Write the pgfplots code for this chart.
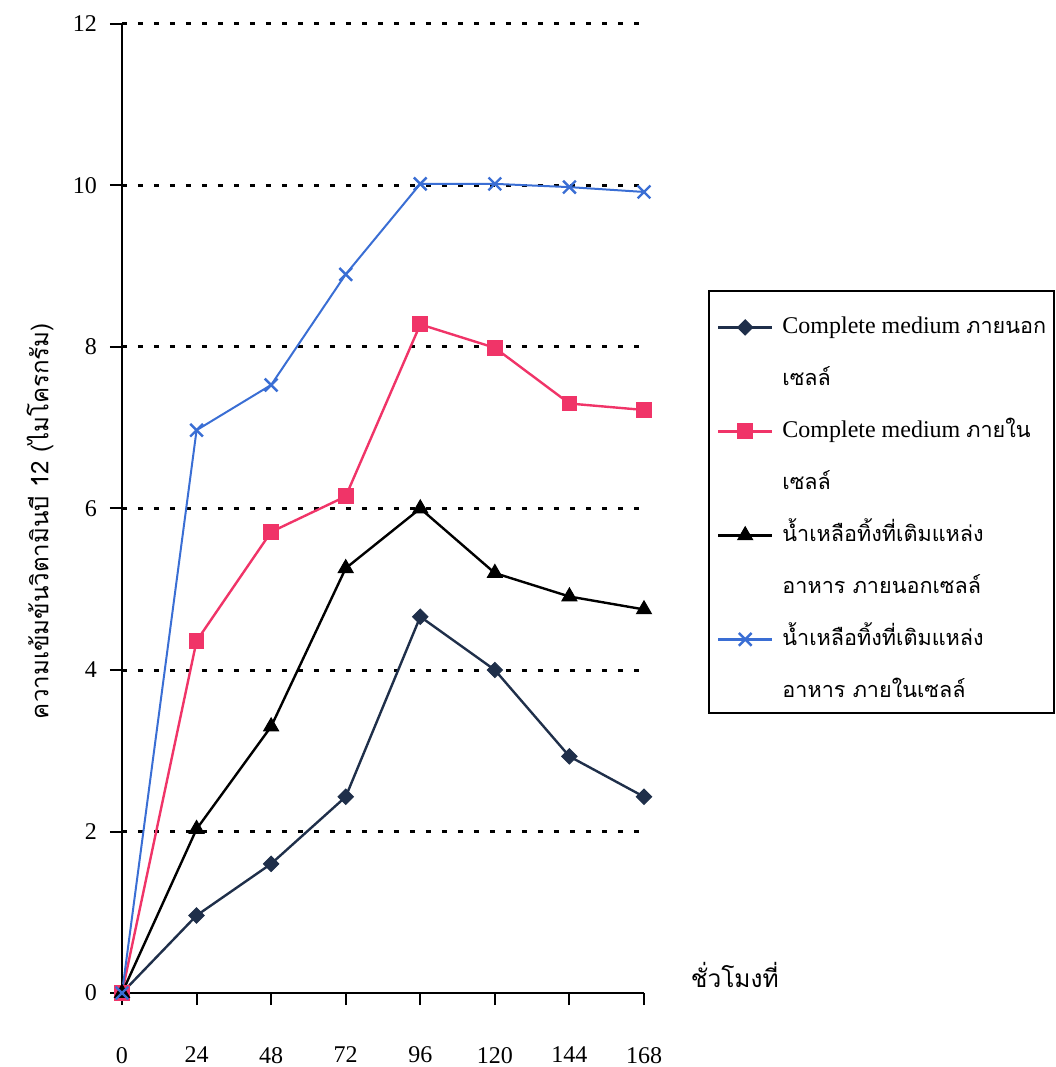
\documentclass[border=0pt]{standalone}
\usepackage{fontspec}
\setmainfont{Liberation Serif}
\newfontfamily\thaifont[Script=Thai,Scale=0.9]{Loma}
\usepackage{pgfplots}
\pgfplotsset{compat=1.18}

\definecolor{navyser}{RGB}{31,47,74}
\definecolor{pinkser}{RGB}{240,52,104}
\definecolor{blueser}{RGB}{58,110,212}

% legend text, set a little away from its symbol
\newcommand\lgtext[1]{\hspace*{4.5pt}#1}

\begin{document}
\begin{tikzpicture}
\begin{axis}[
  name=ax,
  scale only axis,
  width=261pt, height=484.5pt,
  xmin=0, xmax=168, ymin=0, ymax=12,
  xtick={0,24,48,72,96,120,144,168},
  ytick={2,4,6,8,10,12},
  extra y ticks={0},
  extra y tick style={grid=none},
  axis x line*=bottom, axis y line*=left,
  axis line style={-, black, line width=1pt},
  tick align=outside,
  major tick length=6pt,
  tick style={black, line width=1pt},
  ymajorgrids,
  grid style={black, line width=1.5pt, dash pattern=on 2.5pt off 5.5pt},
  ticklabel style={font=\fontsize{12}{14}\selectfont},
  xticklabel style={yshift=-17.5pt},
  yticklabel style={xshift=-3pt},
  /pgf/number format/assume math mode=true,
  xlabel={\thaifont ชั่วโมงที่},
  xlabel style={at={(axis description cs:1.174,0.019)}, anchor=center,
    font=\fontsize{13.6}{15}\selectfont},
  ylabel={\thaifont ความเข้มข้นวิตามินบี 12 (ไมโครกรัม)},
  ylabel style={at={(axis description cs:-0.157,0.487)}, anchor=center,
    font=\fontsize{13.4}{15}\selectfont},
  legend style={at={(axis description cs:1.1226,0.7255)}, anchor=north west,
    draw=black, line width=1pt, inner xsep=4pt, inner ysep=1.5pt, row sep=0pt,
    font=\fontsize{12}{14}\selectfont,
    nodes={inner sep=0pt, anchor=base west, text height=19.7pt, text depth=6.3pt}},
  legend cell align=left,
  legend image code/.code={
    \draw[mark repeat=2, mark phase=2, line width=1.2pt]
      plot coordinates {(0pt,3pt) (13.5pt,3pt) (27pt,3pt)};},
]
% Complete medium, outside the cells
\addplot[navyser, line width=1.2pt, mark=square*, mark size=2.7pt,
  mark options={rotate=45, fill=navyser, line width=0.5pt}]
  coordinates {(0,0) (24,0.96) (48,1.60) (72,2.43) (96,4.66) (120,4.00) (144,2.93) (168,2.43)};
\addlegendentry{\lgtext{Complete medium {\thaifont ภายนอก}}}
\addlegendimage{empty legend}
\addlegendentry{\lgtext{\thaifont เซลล์}}
% Complete medium, inside the cells
\addplot[pinkser, line width=1.2pt, mark=square*, mark size=3.7pt,
  mark options={fill=pinkser, line width=0.5pt}]
  coordinates {(0,0) (24,4.36) (48,5.71) (72,6.15) (96,8.28) (120,7.99) (144,7.30) (168,7.22)};
\addlegendentry{\lgtext{Complete medium {\thaifont ภายใน}}}
\addlegendimage{empty legend}
\addlegendentry{\lgtext{\thaifont เซลล์}}
% waste whey with added nutrients, outside the cells
\addplot[black, line width=1.2pt, mark=triangle*, mark size=4.3pt,
  mark options={fill=black, line width=0.5pt}]
  coordinates {(0,0) (24,2.03) (48,3.30) (72,5.26) (96,6.00) (120,5.20) (144,4.91) (168,4.75)};
\addlegendentry{\lgtext{\thaifont น้ำเหลือทิ้งที่เติมแหล่ง}}
\addlegendimage{empty legend}
\addlegendentry{\lgtext{\thaifont อาหาร ภายนอกเซลล์}}
% waste whey with added nutrients, inside the cells
\addplot[blueser, line width=1pt, mark=x, mark size=4.5pt,
  mark options={line width=1.2pt}]
  coordinates {(0,0) (24,6.97) (48,7.53) (72,8.90) (96,10.02) (120,10.02) (144,9.98) (168,9.92)};
\addlegendentry{\lgtext{\thaifont น้ำเหลือทิ้งที่เติมแหล่ง}}
\addlegendimage{empty legend}
\addlegendentry{\lgtext{\thaifont อาหาร ภายในเซลล์}}
\end{axis}
\pgfresetboundingbox
\path ([xshift=-61pt,yshift=-37pt]ax.south west) rectangle ([xshift=206pt,yshift=12pt]ax.north east);
\end{tikzpicture}
\end{document}
